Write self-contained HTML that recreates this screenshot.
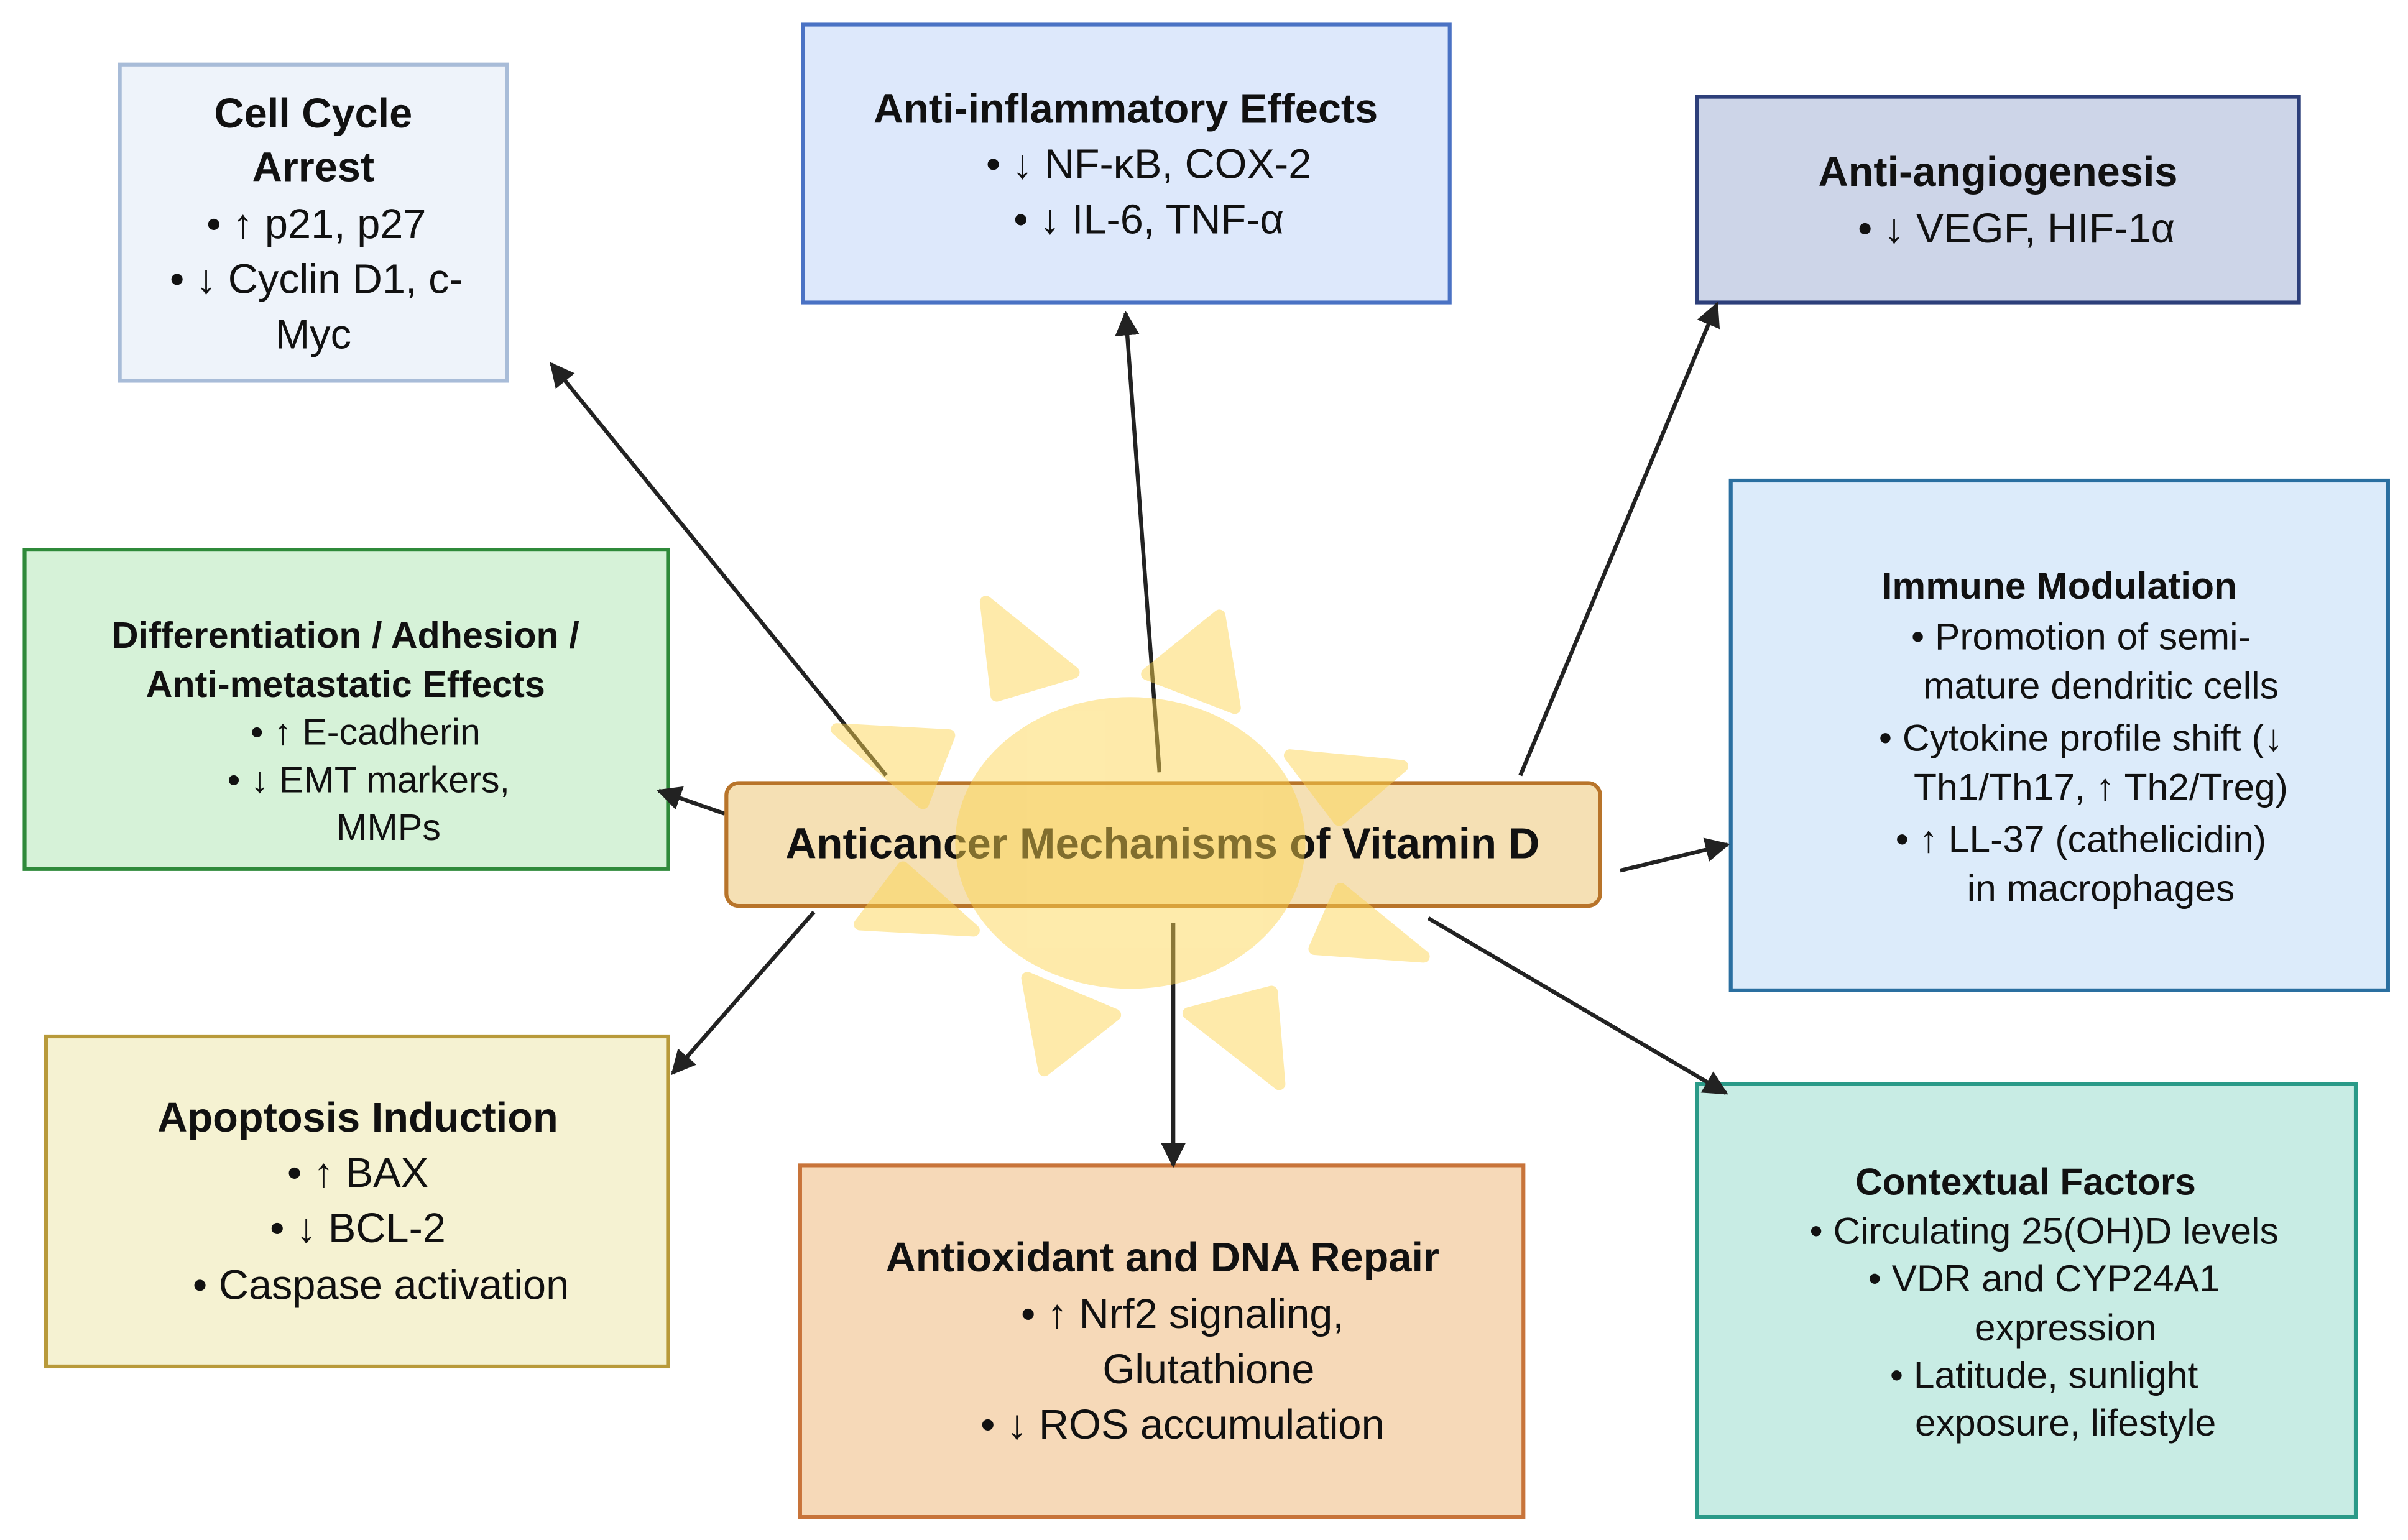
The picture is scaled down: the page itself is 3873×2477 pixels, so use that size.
<!DOCTYPE html>
<html><head><meta charset="utf-8"><style>
html,body{margin:0;padding:0;background:#fff;}
svg{display:block;}
text{font-family:"Liberation Sans","DejaVu Sans",sans-serif;fill:#111;}
.t{font-weight:bold;}
</style></head><body>
<svg width="3873" height="2477" viewBox="0 0 1568 1003" preserveAspectRatio="none" xmlns="http://www.w3.org/2000/svg">
<defs>
<marker id="a" viewBox="0 0 10 10" refX="9" refY="5" markerWidth="16" markerHeight="16" markerUnits="userSpaceOnUse" orient="auto"><path d="M0,0 L10,5 L0,10 z" fill="#222"/></marker>
</defs>
<rect width="1568" height="1003" fill="#fff"/>

<rect x="78" y="42" width="252" height="206" fill="#eef3fa" stroke="#a8bcd8" stroke-width="2.5"/>
<text text-anchor="middle" font-size="27"><tspan class="t" x="204" y="83">Cell Cycle</tspan><tspan class="t" x="204" y="118">Arrest</tspan><tspan x="206" y="155">• ↑ p21, p27</tspan><tspan x="206" y="191">• ↓ Cyclin D1, c-</tspan><tspan x="204" y="227">Myc</tspan></text>

<rect x="523" y="16" width="421" height="181" fill="#dde8fb" stroke="#4a72c4" stroke-width="2.5"/>
<text text-anchor="middle" font-size="27"><tspan class="t" x="733" y="80">Anti-inflammatory Effects</tspan><tspan x="748" y="116">•  ↓ NF-κB, COX-2</tspan><tspan x="748" y="152">•  ↓ IL-6, TNF-α</tspan></text>

<rect x="1105" y="63" width="392" height="134" fill="#cdd5e8" stroke="#2d3f7a" stroke-width="2.5"/>
<text text-anchor="middle" font-size="27"><tspan class="t" x="1301" y="121">Anti-angiogenesis</tspan><tspan x="1313" y="158">•  ↓ VEGF, HIF-1α</tspan></text>

<rect x="1127" y="313" width="428" height="332" fill="#dcebfa" stroke="#2a6fa0" stroke-width="2.5"/>
<text text-anchor="middle" font-size="24.5"><tspan class="t" x="1341" y="390">Immune Modulation</tspan><tspan x="1355" y="423">•  Promotion of semi-</tspan><tspan x="1368" y="455">mature dendritic cells</tspan><tspan x="1355" y="489">•  Cytokine profile shift (↓</tspan><tspan x="1368" y="521">Th1/Th17, ↑ Th2/Treg)</tspan><tspan x="1355" y="555">•  ↑ LL-37 (cathelicidin)</tspan><tspan x="1368" y="587">in macrophages</tspan></text>

<rect x="16" y="358" width="419" height="208" fill="#d6f2d8" stroke="#2f8a3a" stroke-width="2.5"/>
<text text-anchor="middle" font-size="24"><tspan class="t" x="225" y="422">Differentiation / Adhesion /</tspan><tspan class="t" x="225" y="454">Anti-metastatic Effects</tspan><tspan x="238" y="485">•  ↑ E-cadherin</tspan><tspan x="240" y="516">•  ↓ EMT markers,</tspan><tspan x="253" y="547">MMPs</tspan></text>

<rect x="30" y="675" width="405" height="215" fill="#f5f2d2" stroke="#b89a3a" stroke-width="2.5"/>
<text text-anchor="middle" font-size="27"><tspan class="t" x="233" y="737">Apoptosis Induction</tspan><tspan x="233" y="773">•   ↑ BAX</tspan><tspan x="233" y="809">•   ↓ BCL-2</tspan><tspan x="248" y="846">•  Caspase activation</tspan></text>

<rect x="521" y="759" width="471" height="229" fill="#f6d9b8" stroke="#c8743a" stroke-width="2.5"/>
<text text-anchor="middle" font-size="27"><tspan class="t" x="757" y="828">Antioxidant and DNA Repair</tspan><tspan x="770" y="865">•  ↑ Nrf2 signaling,</tspan><tspan x="787" y="901">Glutathione</tspan><tspan x="770" y="937">•  ↓ ROS accumulation</tspan></text>

<rect x="1105" y="706" width="429" height="282" fill="#c8ece4" stroke="#2a9a88" stroke-width="2.5"/>
<text text-anchor="middle" font-size="24.5"><tspan class="t" x="1319" y="778">Contextual Factors</tspan><tspan x="1331" y="810">•  Circulating 25(OH)D levels</tspan><tspan x="1331" y="841">•  VDR and CYP24A1</tspan><tspan x="1345" y="873">expression</tspan><tspan x="1331" y="904">•  Latitude, sunlight</tspan><tspan x="1345" y="935">exposure, lifestyle</tspan></text>

<g stroke="#222" stroke-width="2.6" fill="none" marker-end="url(#a)">
<line x1="577" y1="505" x2="359" y2="237"/>
<line x1="755" y1="503" x2="733" y2="204"/>
<line x1="990" y1="505" x2="1118" y2="198"/>
<line x1="1055" y1="567" x2="1125" y2="550"/>
<line x1="472" y1="530" x2="429" y2="515"/>
<line x1="530" y1="594" x2="438" y2="699"/>
<line x1="764" y1="601" x2="764" y2="759"/>
<line x1="930" y1="598" x2="1124" y2="712"/>
</g>

<rect x="473" y="510" width="569" height="80" rx="8" fill="#f5e0b4" stroke="#b8742a" stroke-width="2.5"/>
<text class="t" x="757" y="559" text-anchor="middle" font-size="28">Anticancer Mechanisms of Vitamin D</text>

<g fill="#fdd54f" stroke="#fdd54f" stroke-width="8" stroke-linejoin="round" opacity="0.48">
<ellipse cx="736" cy="549" rx="114" ry="95" stroke="none"/>
<polygon points="642,392 699,438 649,453"/>
<polygon points="794,401 804,461 747,439"/>
<polygon points="545,475 618,479 601,523"/>
<polygon points="840,492 913,499 872,534"/>
<polygon points="560,602 634,606 588,565"/>
<polygon points="856,618 927,623 873,579"/>
<polygon points="669,637 726,661 680,697"/>
<polygon points="774,660 828,646 833,706"/>
</g>
</svg>
</body></html>
